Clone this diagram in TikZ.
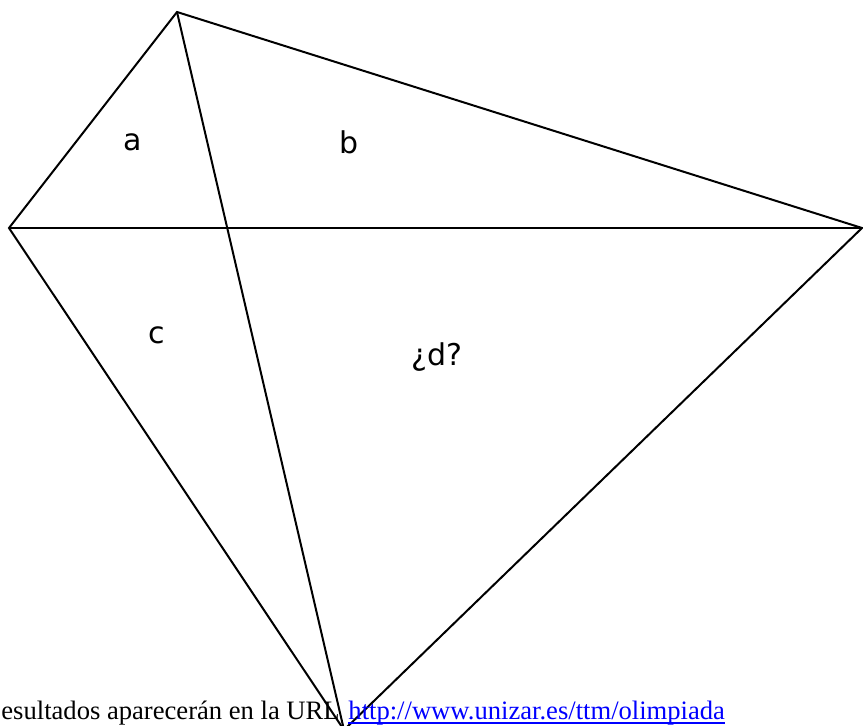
\documentclass[tikz,border=0pt]{standalone}
\usepackage{fontspec}
\setmainfont{Liberation Serif}
\newfontfamily\labelfont{DejaVu Sans}
\usetikzlibrary{positioning}
\tikzset{
  edge/.style={draw, line width=1pt, line join=miter},
  arealabel/.style={font=\labelfont\fontsize{15}{17}\selectfont, inner sep=0pt},
  notetext/.style={font=\fontsize{13.3}{15}\selectfont, inner sep=0pt, anchor=base west},
}
\begin{document}
\begin{tikzpicture}[x=0.5pt, y=-0.5pt]
  \useasboundingbox (0,0) rectangle (863,726);
  \coordinate (top) at (177,12);
  \coordinate (left) at (9,228);
  \coordinate (right) at (862,228);
  \coordinate (bottom) at (344,730);
  % quadrilateral and its diagonals
  \draw[edge] (top) -- (left) -- (bottom) -- (right) -- cycle;
  \draw[edge] (left) -- (right);
  \draw[edge] (top) -- (bottom);
  \node[arealabel] (a) at (133,142) {a};
  \node[arealabel] (b) at (349,142) {b};
  \node[arealabel] (c) at (157,335) {c};
  \node[arealabel] (d) at (437,357) {¿d?};
  \node[notetext] (note) at (1,720) {esultados aparecerán en la URL};
  \node[notetext, text=blue] (url) at ([xshift=4pt]note.base east) {http://www.unizar.es/ttm/olimpiada};
  \draw[blue, line width=0.75pt] ([yshift=-1.6pt]url.base west) -- ([yshift=-1.6pt]url.base east);
\end{tikzpicture}
\end{document}
